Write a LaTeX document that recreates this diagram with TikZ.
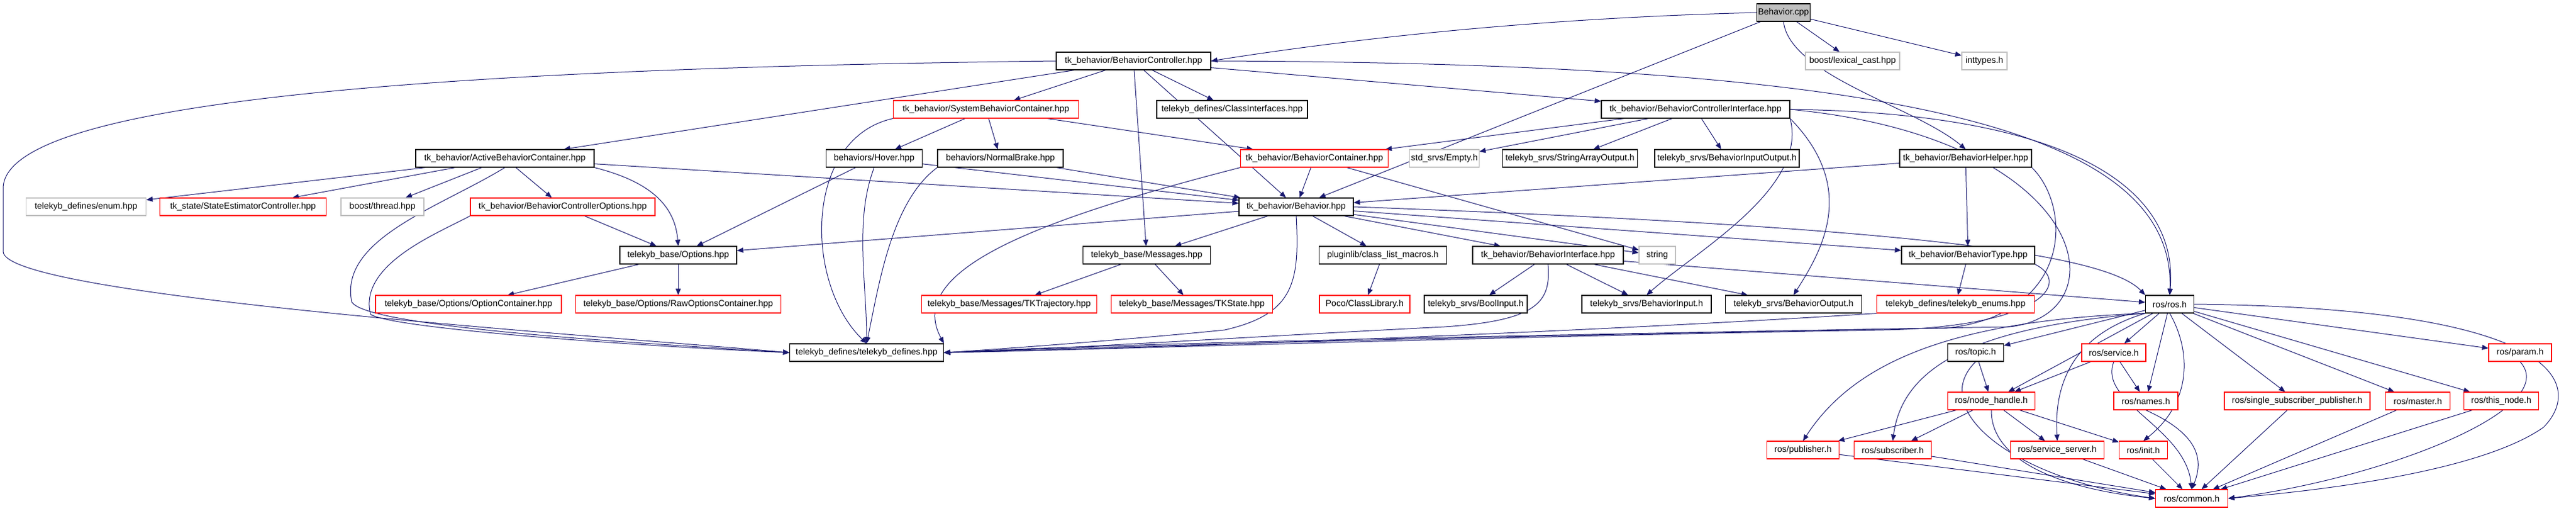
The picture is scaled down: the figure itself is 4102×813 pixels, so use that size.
\documentclass[tikz,border=0pt]{standalone}
\usepackage{fontspec}
\setmainfont{Liberation Sans}
\usetikzlibrary{arrows.meta,backgrounds}
\definecolor{edgeblue}{HTML}{191970}
\definecolor{greyline}{HTML}{BFBFBF}
\tikzset{
  inc/.style={draw=black, fill=white, line width=0.55pt, minimum height=14pt, inner sep=1pt, font=\fontsize{7}{8}\selectfont},
  trunc/.style={inc, draw=red},
  undoc/.style={inc, draw=greyline},
  wd/.style={minimum width=#1*0.5pt},
  dep/.style={draw=edgeblue, line width=0.5pt, -{Triangle[length=5pt,width=4pt]}},
}
\begin{document}
\begin{tikzpicture}[x=0.5pt, y=-0.5pt]
\useasboundingbox (0,0) rectangle (4102,813);
% row 0
\node[inc, fill=greyline, wd=85] (bcpp) at (2840,20) {Behavior.cpp};
% row 1
\node[inc, wd=246] (bctrl) at (1805,97) {tk\_behavior/BehaviorController.hpp};
\node[undoc, wd=150] (lexcast) at (2950,97) {boost/lexical\_cast.hpp};
\node[undoc, wd=72] (inttypes) at (3160,97) {inttypes.h};
% row 2
\node[trunc, wd=295] (sysbc) at (1570,174) {tk\_behavior/SystemBehaviorContainer.hpp};
\node[inc, wd=240] (classif) at (1962,174) {telekyb\_defines/ClassInterfaces.hpp};
\node[inc, wd=300] (bci) at (2700,174) {tk\_behavior/BehaviorControllerInterface.hpp};
% row 3
\node[inc, wd=284] (active) at (804,252) {tk\_behavior/ActiveBehaviorContainer.hpp};
\node[inc, wd=153] (hover) at (1392,252) {behaviors/Hover.hpp};
\node[inc, wd=200] (nbrake) at (1593,252) {behaviors/NormalBrake.hpp};
\node[trunc, wd=235] (bcont) at (2093,252) {tk\_behavior/BehaviorContainer.hpp};
\node[undoc, wd=110] (empty) at (2300,252) {std\_srvs/Empty.h};
\node[inc, wd=215] (strarr) at (2500,252) {telekyb\_srvs/StringArrayOutput.h};
\node[inc, wd=230] (inout) at (2750,252) {telekyb\_srvs/BehaviorInputOutput.h};
\node[inc, wd=210] (bhelp) at (3130,252) {tk\_behavior/BehaviorHelper.hpp};
% row 4
\node[undoc, wd=191] (enum) at (137,329) {telekyb\_defines/enum.hpp};
\node[trunc, wd=265] (stest) at (387,329) {tk\_state/StateEstimatorController.hpp};
\node[undoc, wd=132] (thread) at (609,329) {boost/thread.hpp};
\node[trunc, wd=294] (bcopt) at (896,329) {tk\_behavior/BehaviorControllerOptions.hpp};
\node[inc, wd=182] (bhv) at (2064,329) {tk\_behavior/Behavior.hpp};
% row 5
\node[inc, wd=186] (options) at (1080,406) {telekyb\_base/Options.hpp};
\node[inc, wd=203] (msgs) at (1826,406) {telekyb\_base/Messages.hpp};
\node[inc, wd=203] (clm) at (2202,406) {pluginlib/class\_list\_macros.h};
\node[inc, wd=240] (bint) at (2465,406) {tk\_behavior/BehaviorInterface.hpp};
\node[undoc, wd=58] (string) at (2639,406) {string};
\node[inc, wd=212] (btype) at (3134,406) {tk\_behavior/BehaviorType.hpp};
% row 6
\node[trunc, wd=296] (optc) at (746,484) {telekyb\_base/Options/OptionContainer.hpp};
\node[trunc, wd=327] (rawopt) at (1080,484) {telekyb\_base/Options/RawOptionsContainer.hpp};
\node[trunc, wd=279] (tktraj) at (1607,484) {telekyb\_base/Messages/TKTrajectory.hpp};
\node[trunc, wd=257] (tkstate) at (1898,484) {telekyb\_base/Messages/TKState.hpp};
\node[trunc, wd=144] (poco) at (2173,484) {Poco/ClassLibrary.h};
\node[inc, wd=164] (boolin) at (2350,484) {telekyb\_srvs/BoolInput.h};
\node[inc, wd=206] (bin) at (2622,484) {telekyb\_srvs/BehaviorInput.h};
\node[inc, wd=217] (bout) at (2856,484) {telekyb\_srvs/BehaviorOutput.h};
\node[trunc, wd=251] (tkenums) at (3114,484) {telekyb\_defines/telekyb\_enums.hpp};
\node[inc, wd=77] (ros) at (3455,484) {ros/ros.h};
% row 7
\node[inc, wd=245] (tkdef) at (1380,561) {telekyb\_defines/telekyb\_defines.hpp};
\node[inc, wd=89] (topic) at (3146,561) {ros/topic.h};
\node[trunc, wd=102] (service) at (3366,561) {ros/service.h};
\node[trunc, wd=100] (param) at (4013,561) {ros/param.h};
% row 8
\node[trunc, wd=139] (nh) at (3171,638) {ros/node\_handle.h};
\node[trunc, wd=102] (names) at (3417,638) {ros/names.h};
\node[trunc, wd=232] (ssp) at (3658,638) {ros/single\_subscriber\_publisher.h};
\node[trunc, wd=103] (master) at (3850,638) {ros/master.h};
\node[trunc, wd=119] (thisnode) at (3983,638) {ros/this\_node.h};
% row 9
\node[trunc, wd=115] (pub) at (2871,716) {ros/publisher.h};
\node[trunc, wd=123] (sub) at (3014,716) {ros/subscriber.h};
\node[trunc, wd=149] (srvsrv) at (3276,716) {ros/service\_server.h};
\node[trunc, wd=77] (init) at (3413,716) {ros/init.h};
% row 10
\node[trunc, wd=115] (common) at (3490,793) {ros/common.h};

\begin{scope}[on background layer]
% straight includes
\foreach \a/\b in {bcpp/bhv, bcpp/lexcast, bcpp/inttypes,
    bctrl/active, bctrl/sysbc, bctrl/msgs, bctrl/bhv, bctrl/classif, bctrl/bci,
    sysbc/hover, sysbc/nbrake, sysbc/bcont,
    bci/bcont, bci/empty, bci/strarr, bci/inout,
    active/enum, active/stest, active/thread, active/bcopt, active/bhv,
    hover/options, hover/bhv, nbrake/bhv, bcont/bhv, bcont/string,
    bhelp/bhv, bhelp/btype, bcopt/options,
    bhv/options, bhv/msgs, bhv/clm, bhv/bint, bhv/string, bhv/btype,
    bint/boolin, bint/bin, bint/bout, bint/ros,
    options/optc, options/rawopt, msgs/tktraj, msgs/tkstate, clm/poco, btype/tkenums,
    ros/topic, ros/nh, ros/service, ros/names, ros/ssp, ros/master, ros/thisnode, ros/param,
    topic/nh, service/nh, service/names,
    nh/pub, nh/sub, nh/srvsrv, nh/init,
    ssp/common, master/common, thisnode/common, srvsrv/common, init/common,
    pub/common, sub/common}
  \draw[dep] (\a) -- (\b);

% curved includes
\draw[dep] (bcpp.west) .. controls (2400,30) and (2100,70) .. (bctrl.east);
\draw[dep] (bcpp.south) .. controls (2850,120) and (3050,170) .. (bhelp.north);
\draw[dep] (bctrl.west) .. controls (600,110) and (5,170) .. (5,300) -- (5,400) .. controls (5,470) and (900,530) .. (tkdef.west);
\draw[dep] (bctrl.east) .. controls (3000,100) and (3465,200) .. (ros.north);
\draw[dep] (bci.east) .. controls (3300,180) and (3470,300) .. (ros.north);
\draw[dep] (bci.south east) .. controls (2880,300) and (2700,400) .. (bin.north);
\draw[dep] (bci.south east) .. controls (2960,300) and (2900,400) .. (bout.north);
\draw[dep] (bci.east) .. controls (3330,220) and (3380,500) .. (3200,520) .. controls (2600,530) and (1800,545) .. (tkdef.east);
\draw[dep] (bhelp.south east) .. controls (3300,330) and (3300,500) .. (3100,522) .. controls (2500,532) and (1800,550) .. (tkdef.east);
\draw[dep] (btype.south east) .. controls (3300,450) and (3250,520) .. (3000,525) .. controls (2400,535) and (1800,555) .. (tkdef.east);
\draw[dep] (tkenums.south west) .. controls (2500,530) and (1800,555) .. (tkdef.east);
\draw[dep] (bint.south) .. controls (2470,480) and (2450,510) .. (2300,520) .. controls (2000,535) and (1700,555) .. (tkdef.east);
\draw[dep] (bhv.south) .. controls (2070,450) and (2060,500) .. (1950,525) .. controls (1800,540) and (1600,555) .. (tkdef.east);
\draw[dep] (bhv.east) .. controls (3000,360) and (3350,400) .. (ros.north west);
\draw[dep] (active.south) .. controls (700,330) and (540,380) .. (560,480) .. controls (580,520) and (1000,545) .. (tkdef.west);
\draw[dep] (bcopt.south west) .. controls (700,370) and (570,420) .. (590,500) .. controls (620,522) and (1000,550) .. (tkdef.west);
\draw[dep] (active.south east) .. controls (1040,290) and (1075,330) .. (options.north);
\draw[dep] (sysbc.south west) .. controls (1280,220) and (1280,450) .. (tkdef.north);
\draw[dep] (hover.south) .. controls (1360,350) and (1380,450) .. (tkdef.north);
\draw[dep] (nbrake.south west) .. controls (1420,320) and (1400,450) .. (tkdef.north);
\draw[dep] (bcont.south west) .. controls (1650,350) and (1440,430) .. (tkdef.north east);
\draw[dep] (ros.east) .. controls (4100,490) and (4110,620) .. (4050,680) .. controls (3950,750) and (3700,780) .. (common.east);
\draw[dep] (ros.south) .. controls (3490,560) and (3490,640) .. (init.north);
\draw[dep] (ros.south west) .. controls (3310,530) and (3270,600) .. (srvsrv.north);
\draw[dep] (ros.south west) .. controls (3100,510) and (2950,580) .. (pub.north);
\draw[dep] (ros.south west) .. controls (3150,520) and (3030,580) .. (sub.north);
\draw[dep] (topic.south) .. controls (3070,650) and (3200,760) .. (common.west);
\draw[dep] (nh.south) .. controls (3170,740) and (3300,780) .. (common.west);
\draw[dep] (service.south) .. controls (3340,640) and (3480,680) .. (common.north);
\draw[dep] (names.south) .. controls (3500,690) and (3510,730) .. (common.north);
\draw[dep] (param.south) .. controls (4080,650) and (3800,760) .. (common.east);
\end{scope}
\end{tikzpicture}
\end{document}
